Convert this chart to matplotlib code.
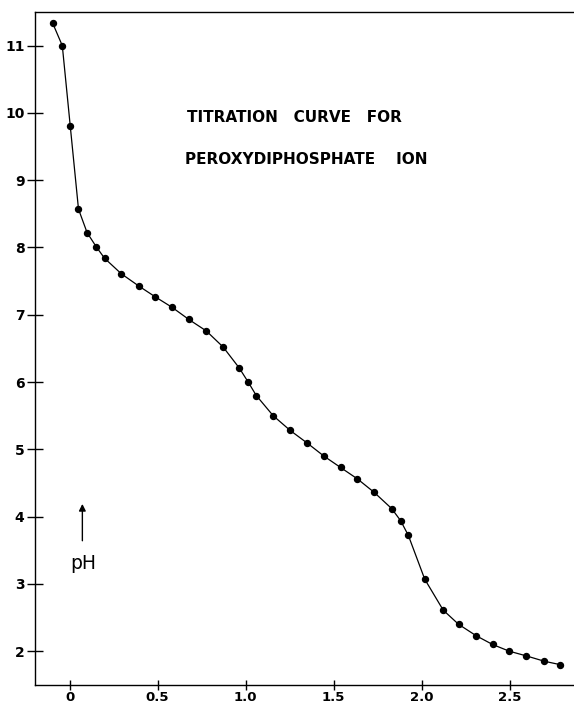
import matplotlib
matplotlib.use("Agg")
import matplotlib.pyplot as plt

# titration data
base_added = [-0.095, -0.041, 0.004, 0.051, 0.100, 0.152, 0.199, 0.294, 0.392,
              0.485, 0.583, 0.678, 0.777, 0.873, 0.964, 1.015, 1.061, 1.157,
              1.254, 1.352, 1.445, 1.540, 1.636, 1.731, 1.830, 1.881, 1.925,
              2.018, 2.123, 2.210, 2.310, 2.403, 2.498, 2.595, 2.698, 2.787]
ph = [11.33, 11.00, 9.81, 8.57, 8.22, 8.01, 7.84, 7.61, 7.43,
      7.27, 7.11, 6.93, 6.76, 6.52, 6.21, 6.00, 5.80, 5.50,
      5.28, 5.09, 4.90, 4.73, 4.56, 4.36, 4.12, 3.94, 3.72,
      3.07, 2.61, 2.40, 2.23, 2.10, 2.00, 1.93, 1.85, 1.80]

x_ticks = [0, 0.5, 1.0, 1.5, 2.0, 2.5]
x_tick_labels = ['0', '0.5', '1.0', '1.5', '2.0', '2.5']
y_ticks = [2, 3, 4, 5, 6, 7, 8, 9, 10, 11]

fig = plt.figure(figsize=(5.74, 7.06), dpi=100)
ax = fig.add_axes([0.061, 0.03, 0.939, 0.953])

ax.plot(base_added, ph, color='black', linewidth=0.9,
        marker='o', markersize=4.3, markerfacecolor='black', markeredgecolor='black')

ax.set_xlim(-0.196, 2.866)
ax.set_ylim(1.5, 11.5)

ax.spines['right'].set_visible(False)
for s in ['left', 'bottom', 'top']:
    ax.spines[s].set_linewidth(1.0)

ax.set_xticks(x_ticks)
ax.set_xticklabels(x_tick_labels)
ax.set_yticks(y_ticks)
ax.tick_params(axis='y', direction='inout', length=11, width=1.0,
               labelsize=10, pad=2)
ax.tick_params(axis='x', direction='inout', length=7, width=1.0,
               labelsize=9.5, pad=1)
for lbl in ax.get_xticklabels() + ax.get_yticklabels():
    lbl.set_fontweight('bold')

ax.text(0.668, 11.0 - (118 - 46) / 67.2, 'TITRATION   CURVE   FOR',
        fontsize=11, fontweight='bold', ha='left', va='center')
ax.text(0.657, 11.0 - (160 - 46) / 67.2, 'PEROXYDIPHOSPHATE    ION',
        fontsize=11, fontweight='bold', ha='left', va='center')

# pH label with upward arrow
ax.annotate('', xy=(0.073, 4.23), xytext=(0.073, 3.6),
            arrowprops=dict(arrowstyle='-|>', color='black', lw=1.0,
                            mutation_scale=10))
ax.text(0.078, 3.3, 'pH', fontsize=13.5, ha='center', va='center')

fig.savefig('out.png', dpi=100)
